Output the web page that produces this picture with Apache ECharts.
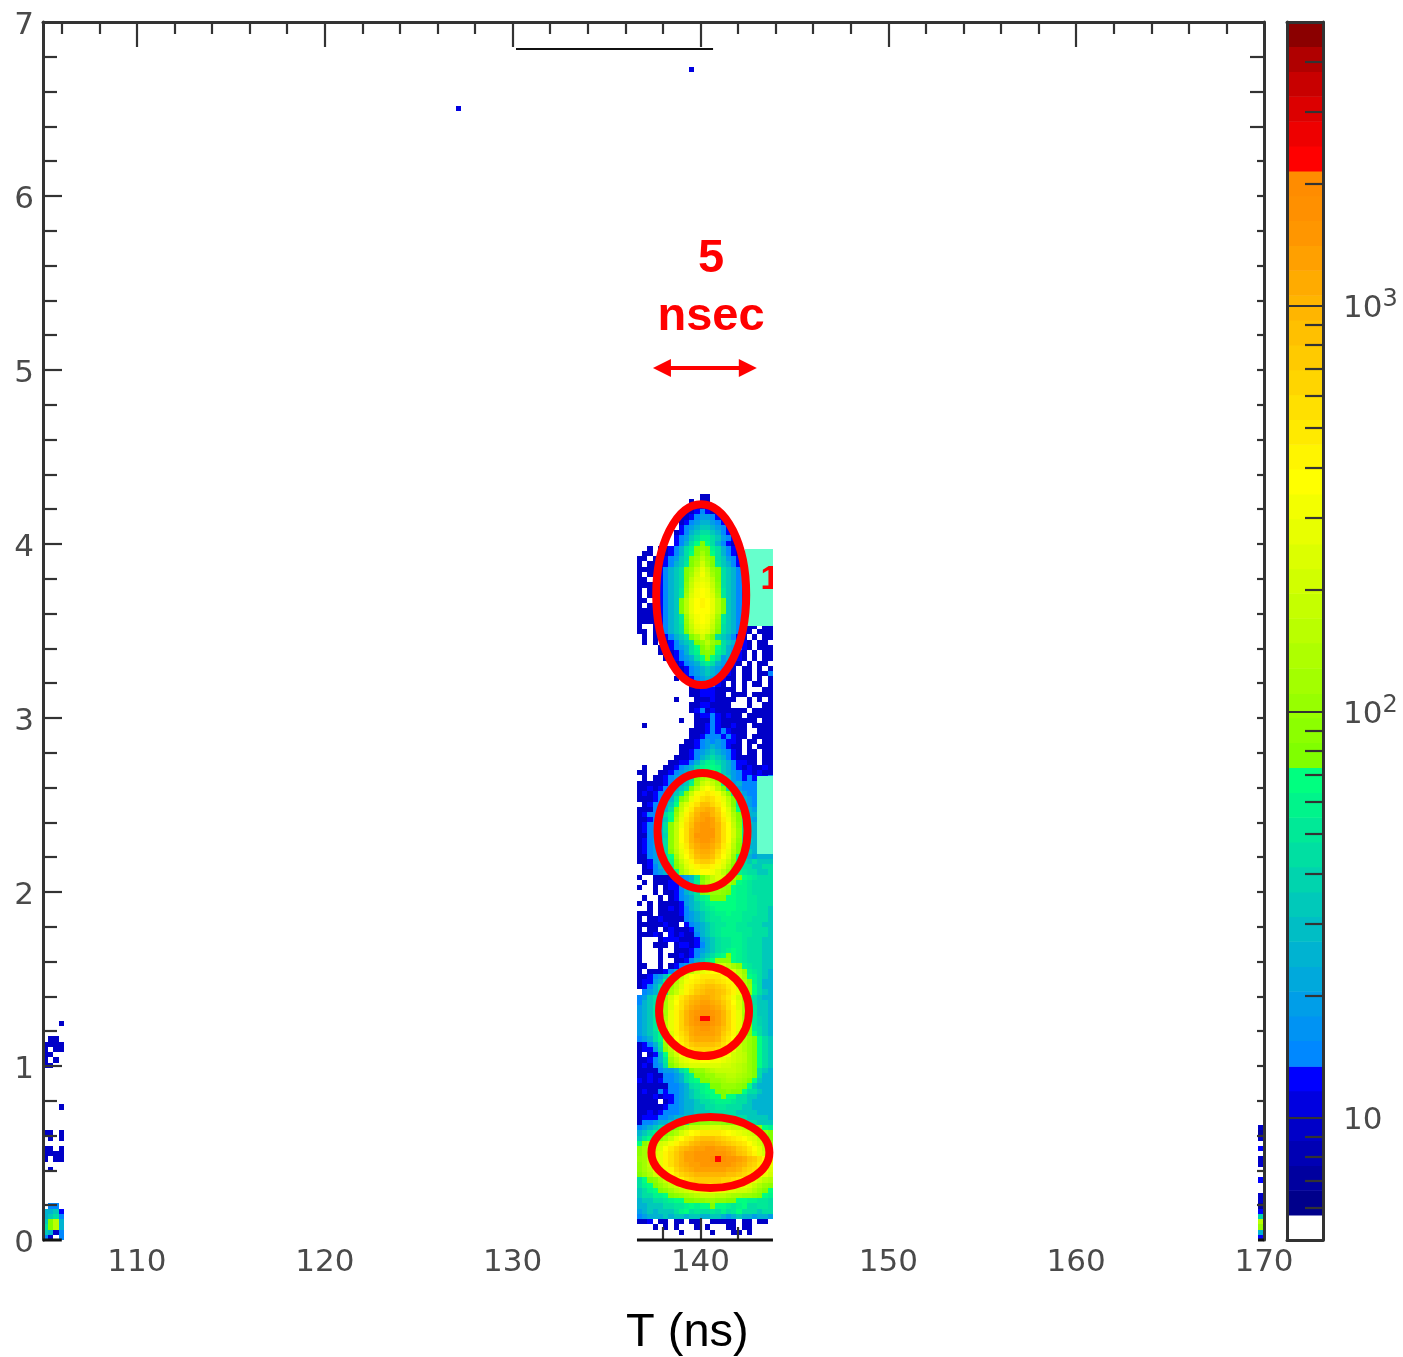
<!DOCTYPE html>
<html>
<head>
<meta charset="utf-8">
<style>html,body{margin:0;padding:0;background:#fff}#c{width:1403px;height:1357px}</style>
<script src="https://cdn.jsdelivr.net/npm/echarts@6/dist/echarts.min.js"></script>
</head>
<body>
<div id="c"></div>
<script>
// Colour levels of the scale bar, bottom to top
const levelColors = ['#ffffff','#00008b','#00009f','#0000b4','#0000c8','#0000e0','#0000ff',
 '#0088ff','#0093f3','#009ee8','#00a9dc','#00b3d1','#00bec5','#00c9ba','#00d4ae','#00dfa2','#00e997','#00f48b','#00ff80',
 '#80ff00','#8cff00','#97ff00','#a3ff00','#aeff00','#baff00','#c5ff00','#d1ff00','#dcff00','#e8ff00','#f3ff00','#ffff00',
 '#fff500','#ffea00','#ffe000','#ffd500','#ffca00','#ffc000','#ffb500','#ffab00','#ffa000','#ff9600','#ff9000','#ff8c00',
 '#ff0000','#ee0000','#dc0000','#c80000','#b00000','#8b0000'];
const levelEdges = [5,5.76,6.63,7.63,8.79,10.1,11.65,13.4,15.5,17.8,20.5,23.6,27.2,31.3,36,41.5,47.8,55,63.3,72.9,84,96.7,111,128,148,170,196,225,259,299,344,396,456,525,604,696,801,922,1062,1223,1408,1621,1866,2149,2474,2849,3280,3777,4349,5000];
const levelKeys = '.abcdefghijklmnopqrstuvwxyzABCDEFGHIJKLMNOPQRSTUV';

// Main histogram block, read cell by cell, top row first
const mainT0 = 136.62, cellT = 0.2784, cellY = 0.03;
const mainRows = [
"............dd............",
"..........d.dd............",
"..........ddfdd...........",
".........ddfgfdd..........",
"........ddfgiigfd.........",
"........dfgikkigfd........",
"........fgikmmkigf........",
".......dfgkmoomkgfd.......",
".......fgimoqqomigf.......",
".......fgkorsrokgfd.......",
"..d.ddfgkoqstsqokgfd......",
".dd.ddfgkorsvsrokgfd......",
"dd.ddfgimosuxusomigfd.....",
"d.dddfgkmpsvzvspmkgfdd....",
"ddddfgkmosuyByusomkgfd....",
"d.ddfgkmosvzCzvsomkgfdd...",
"dd.dfgkmosxABAxsomkgfd.d..",
"ddddfgkmotyBCBytomkgfdd...",
"d.ddfgkmpuzCDCzupmkgfdd...",
"d.ddfgkmpvACDCAvpmkgfd.d..",
"dd.dfgkmsxBDEDBxsmkgfdd...",
"d.ddfgkmsxBDEDBxsmkgfd....",
"ddddfgkmsxBDDDBxsmkgfdd...",
"ddddfgkmpvACDCAvpmkgfd....",
"ddddfgkmpuzCDCzupmkgfdd...",
"d..dfgkmotyBCBytomkgfdd.dd",
"dd.dfgkmosxABAxsomkgfd.ddd",
".d.ddfgkmosvzvsomkgfd.d.dd",
".d.d.dfgkmosuxusomkgfd.dd.",
"....ddfgikorsvsrokigfd.ddd",
"....d.dfgkoqstsqokgfd.d.dd",
".....ddfgikorsroikgfd.d.dd",
".......dfgikoqokigfd.d.dd.",
".......ddfgikmkigfd.dd.d.d",
"........dfgikmkigfd.dd.ddg",
".......d.dfgikigfdd.dd.d.d",
"..........dfgigfd.d.d.dd.d",
"..........ddfffdddd.d...dd",
"..........ddfffdd.ddd.dddd",
".......d...dddfdddd..d.d.d",
"..........ddffdddd...d..dd",
"..........dfgdfdddddd.dddd",
"...........dffgfdfdd.ddddd",
"........d..dddgfddddddd.dd",
".d.........ddfgfddfdd.dddd",
"..........dddfgfgfddd..ddd",
"..........ddfgggfgfdd.dddd",
".........ddfgigigffd.dd.dd",
"........dddfgikigfdd.d.ddd",
"........ddfgikmkigfd.dd.dd",
".......dddfgkmomkgfdddd.dd",
"......ddffgkoqqomkgffdd.dd",
".d...ddfgikoqrrqmkgfdfddfd",
"dd..ddfgikmrstsrmkigffdfdd",
".d.ddfgikmosvxvsqmigfgfffg",
"dddddfgikmqtyAyvroikgggggg",
"ddfdfgikmosxBDBxsomigggggg",
"dfdfggkmpsyCEFECytqmiggggg",
"dddfgikpsvBEGHGEBxsokigggg",
".dfggkmrxAEGJJHFCyspkigggg",
"dddgikosyCFJKLKHDAurmkiggg",
"dfggkoruAEHKMMKIEBwsokkggg",
"ddfgimrwBFILMNMJFCxspkiggg",
"dfgikotyCGJMNNMKGDytpmkggg",
"dfgikotyDGKMNNNKGDzupmkggg",
"ddgikntyDGKNNNNKGDzupmkggg",
"dfgikotyDGKMNNMKGDytpmkiii",
"dfgimotyCFJLMMLJFCxspkkiii",
"dfgikosxBEHKLLKHEBwsomkiii",
"ddgikorvADGJKKJGDAurmkikkk",
"ddfikmqtyBEHIIHEBytqomommm",
".dfgkmpswACEFFECAwspoommoo",
".ddgikorvyBCDDCAxurqpoommo",
"d..ddddfgikpsvyAzyvsrqpooo",
".d.dddffgimqtwyzywtrqpoooo",
"d..d.dffgkortuwwutrqqpoooo",
"...d.ddfgkmpstuutsrqqpoooo",
".d..d.dfgikoqrsssrrqqppooo",
"d.d.ddddfikmoqrrrrrqqppooo",
"..d.ddfdfgkmopqrrrrqqppoom",
"ddd.ddddfgikmopqqrqqpppoom",
"d.ddfddddgikmoppqqqqppooom",
"dddddfdd.fgikmoppqqppooomm",
"d.dd.dfdddfikmopqqqpppooom",
"dddfd.fdfddgkmopqqqqppooom",
"d...dfffdddfikmoppqqpooomm",
"d..ddd.dffdfgkmoppqqpooomm",
"d...d..dddfgikmopqrqpooomm",
"d...d.ddfdfgkmoqrsrqpooomm",
"d...d..ddfgkmprtttrqpooomm",
"dd..d.dfgikotvxzzxvtqpoomm",
"d.dddfgkpuxABCDDCBAxuqpomk",
"ddfgimrvyBDEFFFFEDByvrqomk",
"dffikqtwzCEFGHHGFECzwtqokk",
"dfgkoruxAEFHIJJIHFEAxurokk",
".gikorvyBEGIJKKJIGEByuromk",
"gimorvzCFHJKLLKJHFCzvromkk",
"gkmorvADGIKLMMLKIGDAvsommk",
"ikmpsvAEGJLMNNMLJGEAvspmmk",
"ikmpsvBEHKMNOONMKHEBvspmmk",
"ikmpswBEHKMOQQOMKHEBwspnmk",
"ikmpsxBEHKMNPPNMKHEBxspnmk",
"ikmpsxBEHJLMNNMLJHEBxspomk",
"ikmorwAEGILMMMMLIGEAwsromk",
"gikorvzDFHKLLLLKHFDzwusrom",
"dfgkpuyCEGIJJJJIGECywusrom",
"dffiotxBDFGHHHHGFDBywusrom",
"d.dfkrwzCDEEFFEEDCzyxusrom",
"ddfgkpuxABCCDDCCBAzyxusrom",
"dfdgiosvyzAAAAAAzzyxwusrom",
"ddddgiikoqsuuwxyyyyxwusomk",
"ddfddggikoqssuuwwxxwvusokk",
"fdfdfggikoqrssuuvwwvusrmkk",
"ddddddggikopqrssuuutsrmkkk",
"dfddgfggikmoqrrsstssroomkk",
"dddfdffgikmopqrrsrroommkkk",
"dddd.dfgikkmoopqqqpoomkkkk",
"dddddfggikkmmooppooommkkkk",
"ddfdfgggikkmmmooooommmmkkk",
"dfffggikkmmooppqqqpoommmmk",
"dggikkmoqrssttuutssrqoommm",
"gikmoqrsuwyyzzAAzzyyxwusrq",
"kmoqrsuwzBDEFFFFEDCBAzyxus",
"mprstvyBDFGIJJJIHGFEDBAyws",
"rtvxzACEGHJKLLLKJIHGFDBzxu",
"tvxzADFHJKLMMNNMMLKIHFDByw",
"tvyABEGIKMMNNNNNNMLJIGEBzx",
"uvyBBEGIKMMNNNOQONNMLJIGEC",
"tvyBBEGIKLMMNNNNNNMLKIHFDB",
"tvxAACEHJKLMMMMMMLLKIHGFCA",
"suwzzBDFHIJKKKKKKJJIHGFDBz",
"orstwyADEGHIIIIIHHGFEDBzxw",
"oqrsuwyzBDEFGGGFEEDCBAywut",
"moqrstvxyzABBCCCBAAzzywusr",
"mooqqrstuvwxyyyxxwvvuutsrq",
"kmmoopqrrssttuuttssrrqqppo",
"kkmmmooppqrqrrsrrqpqrooppo",
"ikmkmmmoqropoopoqoprooomoo",
"gikkkmkmmkmmkkmmkikmkkikki",
"ddf.dd.dd.dd..ddddd.dd.dd.",
"...d.d.d...d.d...dd.dd....",
"........d.....d...dd.d....",
".........................."
];

// Narrow block on the left edge, top row first
const leftT0 = 105;
const leftRows = ["...d","....","....",".dd.","dddd","d.dd","dd..","d.d.","dd..","....","....","....","....","....","....","....","...d","....","....","....","....","dd.d",".d.d","....","dd.d","dddd","d.dd","....",".d..","....","....","....","....","....","....",".gg.","kkmf","kmog","msxk","osxk","mkdg","gd.g"];

// Narrow block on the right edge, top row first
const rightT0 = 169.68;
const rightRows = ["d","b","d",".","f",".","d","d",".",".","f",".",".","d","d","b","f","n","x","u","k","f"];

// Isolated cells
const strayT = [127.0, 139.4];
const strayY = [6.49, 6.71];
const strayKey = ['e','e'];

// Axis ticks
const xLabelValues = [110,120,130,140,150,160,170];
const topMajorTicks = [110,120,130,140,150,160];
const topMinorTicks = [106,108,112,114,116,118,122,124,126,128,132,134,136,138,142,144,146,148,152,154,156,158,162,164,166,168];
const bottomMajorTicks = [140];
const bottomMinorTicks = [138,142];
const yLabelValues = [0,1,2,3,4,5,6,7];
const leftMajorTicks = [1,2,3,4,5,6];
const leftMinorTicks = [0.2,0.4,0.6,0.8,1.2,1.4,1.6,1.8,2.2,2.4,2.6,2.8,3.2,3.4,3.6,3.8,4.2,4.4,4.6,4.8,5.2,5.4,5.6,5.8,6.2,6.4,6.6,6.8];
const rightLongTicks = [6.4,6.6,6.8];
const rightShortTicks = [0.2,0.4,0.6,0.8,1,1.2,1.4,1.6,1.8,2,2.2,2.4,2.6,2.8,3,3.2,3.4,3.6,3.8,4,4.2,4.4,4.6,4.8,5,5.2,5.4,5.6,5.8,6,6.2];
const barMajorCounts = [10,100,1000];
const barMinorCounts = [6,7,8,9,20,30,40,50,60,70,80,90,200,300,400,500,600,700,800,900,2000,3000,4000];

// Annotations, in data units
const ringCx = [140.04,140.11,140.19,140.53];
const ringCy = [3.709,2.351,1.316,0.503];
const ringRx = [2.395,2.395,2.395,3.14];
const ringRy = [0.520,0.333,0.259,0.204];
const patchT0 = [142.37,143.01], patchT1 = [143.86,143.86];
const patchY0 = [3.529,2.218], patchY1 = [3.971,2.667];
const noteText = ['5','nsec','1'];
const noteT = [140.56,140.56,143.7];
const noteY = [5.638,5.305,3.793];
const noteSize = [47,47,34];
const noteClipT = 143.86;
const arrowT = [137.47,143.0], arrowY = 5.011;
const blackLineT = [130.18,140.67], blackLineY = 6.845;
const bottomEdgeT0 = [105,136.62,169.68], bottomEdgeT1 = [106,143.86,170];

function decode(rows, t0) {
  const out = [], n = rows.length;
  rows.forEach((row, i) => {
    for (let c = 0; c < row.length; c++) {
      const lv = levelKeys.indexOf(row[c]);
      if (lv > 0) out.push([t0 + c * cellT, (n - 1 - i) * cellY, Math.sqrt(levelEdges[lv] * levelEdges[lv + 1]), lv]);
    }
  });
  return out;
}
const cellData = decode(mainRows, mainT0).concat(decode(leftRows, leftT0), decode(rightRows, rightT0));
strayT.forEach((t, i) => {
  const lv = levelKeys.indexOf(strayKey[i]);
  cellData.push([t, strayY[i], levelEdges[lv], lv]);
});

const ink = '#333';
const labelFont = {fontFamily: '"DejaVu Sans"', fontSize: 31, color: '#4a4a4a'};
const tickW = 2.2, lineW = 3;
const lineOff = {show: false, onZero: false};
function mx(grid, pos, opt) {
  return Object.assign({gridIndex: grid, type: 'value', min: 105, max: 170, position: pos, z: 10,
    splitLine: {show: false}, axisLine: lineOff, axisLabel: {show: false}}, opt);
}
function my(grid, pos, opt) {
  return Object.assign({gridIndex: grid, type: 'value', min: 0, max: 7, position: pos, z: 10,
    splitLine: {show: false}, axisLine: lineOff, axisLabel: {show: false}}, opt);
}
function ticks(vals, len) {
  return {show: true, inside: true, length: len, customValues: vals, lineStyle: {color: ink, width: tickW}};
}
const lineOn = {show: true, onZero: false, lineStyle: {color: ink, width: lineW}};
const blog = v => Math.log10(v);
const barMin = blog(5), barMax = blog(5000);
function bx(grid, pos, line, show) {
  return {gridIndex: grid, show: show, type: 'value', min: 0, max: 1, position: pos, z: 10, splitLine: {show: false},
    axisTick: {show: false}, axisLabel: {show: false}, axisLine: line};
}
function by(grid, pos, opt) {
  return Object.assign({gridIndex: grid, type: 'value', min: barMin, max: barMax, position: pos, z: 10,
    splitLine: {show: false}, axisLine: lineOff, axisTick: {show: false}, axisLabel: {show: false}}, opt);
}

const mainRect = {left: 43, top: 22, width: 1221, height: 1218};
const barRect = {left: 1287, top: 22, width: 36, height: 1218};
const option = {
  animation: false,
  backgroundColor: '#fff',
  title: {text: 'T (ns)', left: 621, top: 1305, textStyle: {fontFamily: '"Liberation Sans"', fontSize: 47, fontWeight: 'normal', color: '#000'}},
  grid: [mainRect, barRect, mainRect, barRect],
  xAxis: [
    mx(0, 'bottom', {axisTick: ticks(bottomMajorTicks, 22), axisLabel: Object.assign({show: true, customValues: xLabelValues, margin: 7}, labelFont)}),
    mx(0, 'top', {axisLine: lineOn, axisTick: ticks(topMajorTicks, 25)}),
    mx(2, 'bottom', {axisTick: ticks(bottomMinorTicks, 13)}),
    mx(2, 'top', {axisTick: ticks(topMinorTicks, 12)}),
    bx(1, 'top', lineOn, true),
    bx(1, 'bottom', lineOn, true),
    bx(3, 'bottom', lineOff, false)
  ],
  yAxis: [
    my(0, 'left', {axisLine: lineOn, axisTick: ticks(leftMajorTicks, 19),
      axisLabel: {show: true, customValues: yLabelValues, margin: 9, padding: [7, 0, 0, 0],
        formatter: v => '{d|' + v + '}', rich: {d: Object.assign({lineHeight: 40}, labelFont)}}}),
    my(0, 'right', {axisLine: lineOn, axisTick: ticks(rightShortTicks, 7)}),
    my(2, 'left', {axisTick: ticks(leftMinorTicks, 14)}),
    my(2, 'right', {axisTick: ticks(rightLongTicks, 14)}),
    by(1, 'right', {axisLine: lineOn,
      axisTick: {show: true, inside: true, length: 36, customValues: barMajorCounts.map(blog), lineStyle: {color: ink, width: tickW}},
      axisLabel: {show: true, margin: 20, padding: [7, 0, 0, 0], customValues: barMajorCounts.map(blog),
        formatter: v => {
          const e = Math.round(v);
          return e === 1 ? '{n|10}' : '{n|10}{s|' + e + '}';
        },
        rich: {n: {fontFamily: '"DejaVu Sans"', fontSize: 31, color: '#4a4a4a', lineHeight: 44},
               s: {fontFamily: '"DejaVu Sans"', fontSize: 24, color: '#4a4a4a', lineHeight: 44, verticalAlign: 'top'}}}}),
    by(1, 'left', {axisLine: lineOn}),
    by(3, 'right', {axisTick: {show: true, inside: true, length: 18, customValues: barMinorCounts.map(blog), lineStyle: {color: ink, width: tickW}}})
  ],
  series: [
    { // histogram cells
      type: 'custom', xAxisIndex: 0, yAxisIndex: 0, z: 2, silent: true, clip: false,
      data: cellData,
      renderItem: (p, api) => {
        const a = api.coord([api.value(0), api.value(1) + cellY]);
        const b = api.coord([api.value(0) + cellT, api.value(1)]);
        return {type: 'rect', shape: {x: Math.round(a[0]), y: Math.round(a[1]), width: Math.round(b[0]) - Math.round(a[0]), height: Math.round(b[1]) - Math.round(a[1])},
          style: {fill: levelColors[api.value(3)]}};
      }
    },
    { // colour patches
      type: 'custom', xAxisIndex: 0, yAxisIndex: 0, z: 3, silent: true,
      data: patchT0.map((t, i) => [t, patchY0[i], patchT1[i], patchY1[i]]),
      renderItem: (p, api) => {
        const a = api.coord([api.value(0), api.value(3)]), b = api.coord([api.value(2), api.value(1)]);
        return {type: 'rect', shape: {x: a[0], y: a[1], width: b[0] - a[0], height: b[1] - a[1]}, style: {fill: '#66ffcc'}};
      }
    },
    { // red rings
      type: 'custom', xAxisIndex: 0, yAxisIndex: 0, z: 4, silent: true, clip: false,
      data: ringCx.map((c, i) => [c, ringCy[i], ringRx[i], ringRy[i]]),
      renderItem: (p, api) => {
        const c = api.coord([api.value(0), api.value(1)]);
        const s = api.size([api.value(2), api.value(3)]);
        return {type: 'ellipse', shape: {cx: c[0], cy: c[1], rx: s[0], ry: s[1]},
          style: {fill: null, stroke: '#ff0000', lineWidth: 8}};
      }
    },
    { // red notes
      type: 'custom', xAxisIndex: 0, yAxisIndex: 0, z: 5, silent: true, clip: false,
      data: noteText.map((t, i) => [noteT[i], noteY[i], noteSize[i]]),
      renderItem: (p, api) => {
        const c = api.coord([api.value(0), api.value(1)]);
        const edge = api.coord([noteClipT, 0])[0];
        const el = {type: 'text', style: {text: noteText[p.dataIndex], x: c[0], y: c[1], fill: '#ff0000',
          font: 'bold ' + api.value(2) + 'px "Liberation Sans"', textAlign: 'center', textVerticalAlign: 'middle'}};
        if (noteText[p.dataIndex] === '1') {
          return {type: 'group', clipPath: {type: 'rect', shape: {x: edge - 40, y: c[1] - 40, width: 40, height: 80}}, children: [el]};
        }
        return el;
      }
    },
    { // double arrow
      type: 'custom', xAxisIndex: 0, yAxisIndex: 0, z: 5, silent: true, clip: false,
      data: [[arrowT[0], arrowY, arrowT[1]]],
      renderItem: (p, api) => {
        const a = api.coord([api.value(0), api.value(1)]), b = api.coord([api.value(2), api.value(1)]);
        const h = 18, w = 9;
        return {type: 'group', children: [
          {type: 'line', shape: {x1: a[0] + h - 2, y1: a[1], x2: b[0] - h + 2, y2: b[1]}, style: {stroke: '#ff0000', lineWidth: 4}},
          {type: 'polygon', shape: {points: [[a[0], a[1]], [a[0] + h, a[1] - w], [a[0] + h, a[1] + w]]}, style: {fill: '#ff0000'}},
          {type: 'polygon', shape: {points: [[b[0], b[1]], [b[0] - h, b[1] - w], [b[0] - h, b[1] + w]]}, style: {fill: '#ff0000'}}
        ]};
      }
    },
    { // black lines: top bar and visible pieces of the bottom frame
      type: 'custom', xAxisIndex: 0, yAxisIndex: 0, z: 11, silent: true, clip: false,
      data: [[blackLineT[0], blackLineY, blackLineT[1], 2]].concat(bottomEdgeT0.map((t, i) => [t, 0, bottomEdgeT1[i], lineW])),
      renderItem: (p, api) => {
        const a = api.coord([api.value(0), api.value(1)]), b = api.coord([api.value(2), api.value(1)]);
        return {type: 'line', shape: {x1: a[0], y1: a[1], x2: b[0], y2: b[1]}, style: {stroke: '#111', lineWidth: api.value(3)}};
      }
    },
    { // scale bar
      type: 'custom', xAxisIndex: 4, yAxisIndex: 4, z: 2, silent: true,
      data: levelColors.map((c, i) => [0, blog(levelEdges[i]), 1, blog(levelEdges[i + 1])]),
      renderItem: (p, api) => {
        const a = api.coord([api.value(0), api.value(3)]), b = api.coord([api.value(2), api.value(1)]);
        return {type: 'rect', shape: {x: a[0], y: a[1], width: b[0] - a[0], height: b[1] - a[1] + 0.5},
          style: {fill: levelColors[p.dataIndex]}};
      }
    }
  ]
};
const chart = echarts.init(document.getElementById('c'), null, {renderer: 'canvas'});
chart.setOption(option);
</script>
</body>
</html>
